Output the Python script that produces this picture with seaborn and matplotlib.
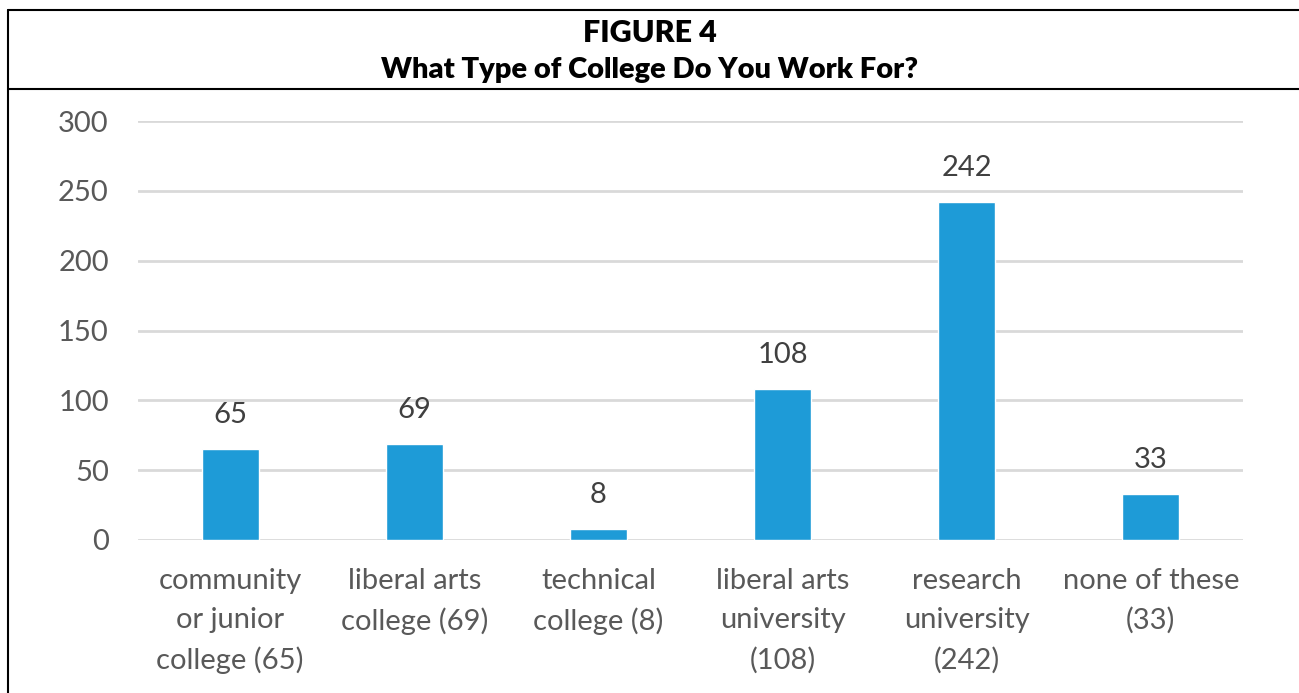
import matplotlib
matplotlib.use("Agg")
import matplotlib.pyplot as plt
import seaborn as sns
from matplotlib.lines import Line2D

# data
categories = ["community\nor junior\ncollege (65)", "liberal arts\ncollege (69)",
              "technical\ncollege (8)", "liberal arts\nuniversity\n(108)",
              "research\nuniversity\n(242)", "none of these\n(33)"]
counts = [65, 69, 8, 108, 242, 33]
yticks = [0, 50, 100, 150, 200, 250, 300]

sns.set_style("white")
plt.rcParams['font.family'] = ['Lato', 'DejaVu Sans']

fig = plt.figure(figsize=(12.99, 6.93), dpi=100)
ax = fig.add_axes([138/1299, 1 - 540/693, 1105/1299, 419/693])

sns.barplot(x=categories, y=counts, color="#1E9BD7", width=0.31,
            saturation=1, ax=ax, zorder=3)
ax.bar_label(ax.containers[0], fontsize=21, color="#404040", padding=15)

ax.set_ylim(0, 300)
ax.set_yticks(yticks)
ax.yaxis.grid(True, color="#D9D9D9", linewidth=2, zorder=0)
ax.set_axisbelow(True)
sns.despine(ax=ax, left=True, bottom=True, top=True, right=True)
ax.tick_params(axis="both", length=0, labelsize=21, labelcolor="#595959")
ax.tick_params(axis="x", pad=20)
ax.tick_params(axis="y", pad=21)
for t in ax.get_xticklabels():
    t.set_linespacing(1.62)

# outer frame and title bar
fig.add_artist(Line2D([7.5/1299, 7.5/1299], [0, 1 - 10/693], color="black", lw=1.5))
fig.add_artist(Line2D([7.5/1299, 1], [1 - 10/693, 1 - 10/693], color="black", lw=1.5))
fig.add_artist(Line2D([7.5/1299, 1], [1 - 89/693, 1 - 89/693], color="black", lw=1.5))
fig.text(0.5, 1 - 33/693, "FIGURE 4", ha="center", va="center", fontsize=22,
         fontweight="heavy", color="black")
fig.text(0.5, 1 - 70/693, "What Type of College Do You Work For?", ha="center",
         va="center", fontsize=21, fontweight="heavy", color="black")

fig.savefig("out.png", dpi=100)
